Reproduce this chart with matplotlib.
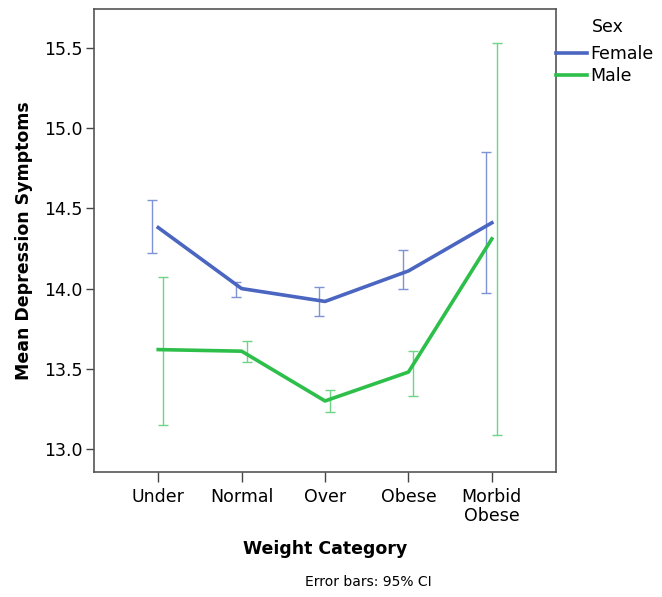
import matplotlib
matplotlib.use("Agg")
import matplotlib.pyplot as plt
import numpy as np

# weight categories along x
categories = ["Under", "Normal", "Over", "Obese", "Morbid\nObese"]

# mean depression symptoms per sex
female_mean = [14.38, 14.00, 13.92, 14.11, 14.41]
male_mean = [13.62, 13.61, 13.30, 13.48, 14.31]

# 95% CI bounds
female_lo = [14.22, 13.95, 13.83, 14.00, 13.97]
female_hi = [14.55, 14.04, 14.01, 14.24, 14.85]
male_lo = [13.15, 13.54, 13.23, 13.33, 13.09]
male_hi = [14.07, 13.675, 13.37, 13.61, 15.53]

plt.rcParams['font.family'] = ['DejaVu Sans']

fig = plt.figure(figsize=(6.62, 5.97), dpi=100)
ax = fig.add_axes([0.142, 0.209, 0.698, 0.776])

x = np.arange(len(categories))
blue = "#4a66c0"
green = "#2dbf4a"

def draw(mean, lo, hi, color, err_color, shift, label):
    mean = np.array(mean)
    yerr = [mean - np.array(lo), np.array(hi) - mean]
    ax.errorbar(x + shift, mean, yerr=yerr, fmt="none", ecolor=err_color,
                elinewidth=1.0, capsize=3.8, capthick=1.0, zorder=2)
    ax.plot(x, mean, color=color, lw=2.6, label=label, zorder=3)

draw(female_mean, female_lo, female_hi, blue, "#7d93d3", -0.07, "Female")
draw(male_mean, male_lo, male_hi, green, "#6fd585", 0.06, "Male")

ax.set_xlim(-0.77, 4.77)
ax.set_ylim(12.856, 15.742)
ax.set_xticks(x)
ax.set_xticklabels(categories, fontsize=12.5, linespacing=1.08)
ax.set_yticks([13.0, 13.5, 14.0, 14.5, 15.0, 15.5])
ax.set_yticklabels(["13.0", "13.5", "14.0", "14.5", "15.0", "15.5"], fontsize=12.5)
ax.tick_params(axis="y", length=6, width=1, color="#444444", pad=2)
ax.tick_params(axis="x", length=7, width=1, color="#444444", pad=4)
for s in ax.spines.values():
    s.set_color("#555555")
    s.set_linewidth(1.2)

ax.set_ylabel("Mean Depression Symptoms", fontsize=12.5, fontweight="bold", labelpad=8)
ax.set_xlabel("Weight Category", fontsize=12.5, fontweight="bold", labelpad=11)

leg = ax.legend(loc="upper left", bbox_to_anchor=(1.0, 0.922),
                frameon=False, fontsize=12.5,
                handlelength=1.8, handletextpad=0.15, labelspacing=0.25,
                borderaxespad=0.0, borderpad=0.0)
fig.text(0.894, 0.955, "Sex", fontsize=12.5, ha="left", va="center")

fig.text(0.556, 0.018, "Error bars: 95% CI", fontsize=10, ha="center")

fig.savefig("out.png", dpi=100)
